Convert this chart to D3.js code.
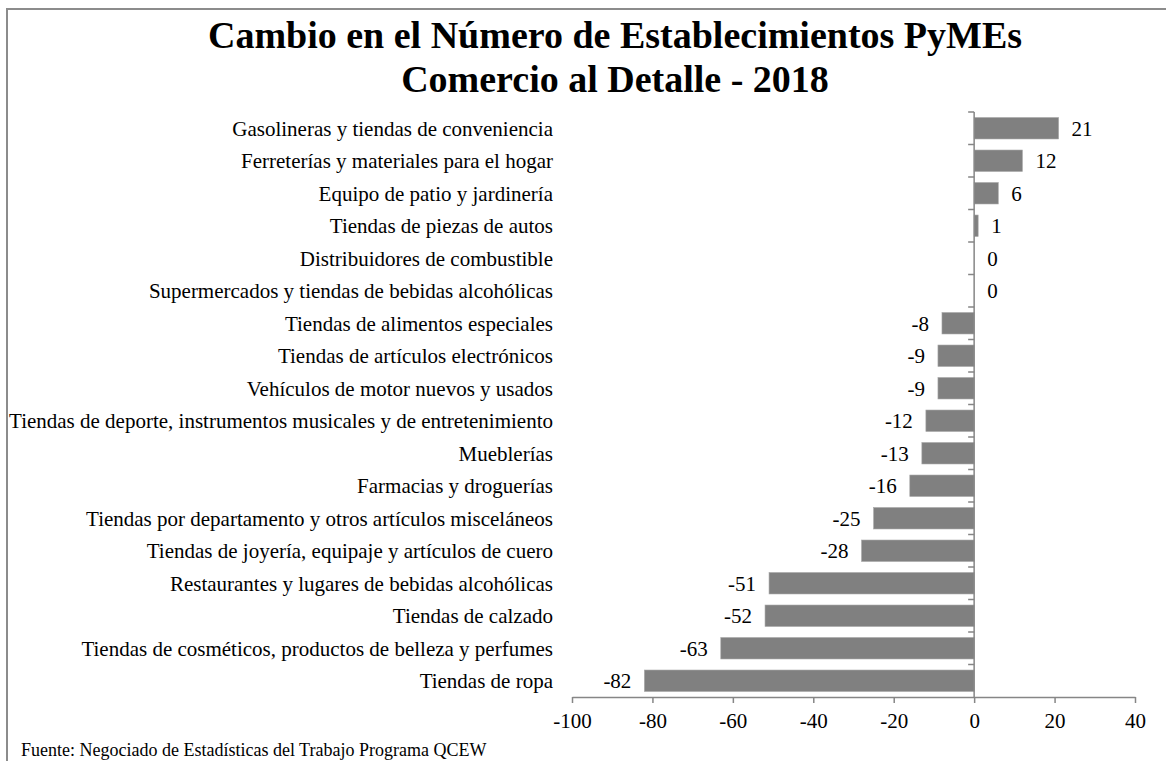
<!DOCTYPE html>
<html>
<head>
<meta charset="utf-8">
<script src="https://cdn.jsdelivr.net/npm/d3@7"></script>
<style>
    body { margin: 0; background: #fff; }
    svg { display: block; font-family: "Liberation Serif", "Times New Roman", serif; }
</style>
</head>
<body>
<div id="chart"></div>
<script>
    // data, top to bottom as in the chart
    var categories = [
        "Gasolineras y tiendas de conveniencia",
        "Ferreterías y materiales para el hogar",
        "Equipo de patio y jardinería",
        "Tiendas de piezas de autos",
        "Distribuidores de combustible",
        "Supermercados y tiendas de bebidas alcohólicas",
        "Tiendas de alimentos especiales",
        "Tiendas de artículos electrónicos",
        "Vehículos de motor nuevos y usados",
        "Tiendas de deporte, instrumentos musicales y de entretenimiento",
        "Mueblerías",
        "Farmacias y droguerías",
        "Tiendas por departamento y otros artículos misceláneos",
        "Tiendas de joyería, equipaje y artículos de cuero",
        "Restaurantes y lugares de bebidas alcohólicas",
        "Tiendas de calzado",
        "Tiendas de cosméticos, productos de belleza y perfumes",
        "Tiendas de ropa"
    ];
    var values = [21, 12, 6, 1, 0, 0, -8, -9, -9, -12, -13, -16, -25, -28, -51, -52, -63, -82];
    var xTicks = [-100, -80, -60, -40, -20, 0, 20, 40];
    var titleLines = ["Cambio en el Número de Establecimientos PyMEs", "Comercio al Detalle - 2018"];
    var source = "Fuente: Negociado de Estadísticas del Trabajo Programa QCEW";

    var W = 1166, H = 761,
        margin = {top: 112, left: 572, right: 31, bottom: 64},
        axisColor = "#868686",
        barColor = "#808080",
        fontSize = "21px";

    var svg = d3.select("#chart").append("svg")
        .attr("width", W)
        .attr("height", H);

    // outer frame (only top and left edges show)
    svg.append("path")
        .attr("d", "M7," + H + "V9H" + W)
        .attr("fill", "none")
        .attr("stroke", "#8c8c8c")
        .attr("stroke-width", 2);

    var x = d3.scaleLinear()
        .domain([-100, 40])
        .range([margin.left, W - margin.right]);

    var y = d3.scaleBand()
        .domain(categories)
        .range([margin.top, H - margin.bottom])
        .paddingInner(0.34)
        .paddingOuter(0.17);

    var step = y.step(),
        y0 = margin.top,
        y1 = H - margin.bottom;

    // title
    svg.append("text")
        .attr("x", 615)
        .attr("y", 48)
        .attr("text-anchor", "middle")
        .style("font-size", "38px")
        .style("font-weight", "bold")
        .selectAll("tspan")
        .data(titleLines)
        .enter().append("tspan")
        .attr("x", 615)
        .attr("dy", function(d, i) { return i ? 44 : 0; })
        .text(function(d) { return d; });

    // bars
    svg.append("g").selectAll("rect")
        .data(values)
        .enter().append("rect")
        .attr("x", function(d) { return x(Math.min(0, d)); })
        .attr("y", function(d, i) { return y(categories[i]); })
        .attr("width", function(d) { return Math.abs(x(d) - x(0)); })
        .attr("height", y.bandwidth())
        .attr("fill", barColor)
        .attr("stroke", "#a6a6a6")
        .attr("stroke-width", 0.6);

    // value labels
    svg.append("g").selectAll("text")
        .data(values)
        .enter().append("text")
        .attr("x", function(d) { return d < 0 ? x(d) - 13 : x(d) + 13; })
        .attr("y", function(d, i) { return y(categories[i]) + y.bandwidth() / 2; })
        .attr("dy", "0.35em")
        .attr("text-anchor", function(d) { return d < 0 ? "end" : "start"; })
        .style("font-size", fontSize)
        .text(function(d) { return d; });

    // category labels
    svg.append("g").selectAll("text")
        .data(categories)
        .enter().append("text")
        .attr("x", 553)
        .attr("y", function(d) { return y(d) + y.bandwidth() / 2; })
        .attr("dy", "0.35em")
        .attr("text-anchor", "end")
        .style("font-size", fontSize)
        .text(function(d) { return d; });

    // vertical axis at zero with ticks between categories
    var yAxis = svg.append("g");
    yAxis.append("line")
        .attr("x1", x(0)).attr("x2", x(0))
        .attr("y1", y0).attr("y2", y1)
        .attr("stroke", axisColor)
        .attr("stroke-width", 1.5);
    yAxis.selectAll(".tk")
        .data(d3.range(categories.length))
        .enter().append("line")
        .attr("x1", x(0) - 6).attr("x2", x(0))
        .attr("y1", function(i) { return y0 + i * step; })
        .attr("y2", function(i) { return y0 + i * step; })
        .attr("stroke", axisColor)
        .attr("stroke-width", 1.5);

    // x axis
    var xAxis = d3.axisBottom(x)
        .tickValues(xTicks)
        .tickFormat(function(d) { return String(d); })
        .tickSize(6)
        .tickSizeOuter(0)
        .tickPadding(10);

    var gx = svg.append("g")
        .attr("transform", "translate(0," + y1 + ")")
        .call(xAxis);
    gx.select(".domain").attr("stroke", axisColor).attr("stroke-width", 1.5);
    gx.selectAll(".tick line").attr("stroke", axisColor).attr("stroke-width", 1.5);
    gx.selectAll(".tick text")
        .attr("fill", "#000")
        .style("font-size", fontSize)
        .style("font-family", "Liberation Serif, serif");

    // source note
    svg.append("text")
        .attr("x", 21)
        .attr("y", 756)
        .style("font-size", "18px")
        .text(source);
</script>
</body>
</html>
